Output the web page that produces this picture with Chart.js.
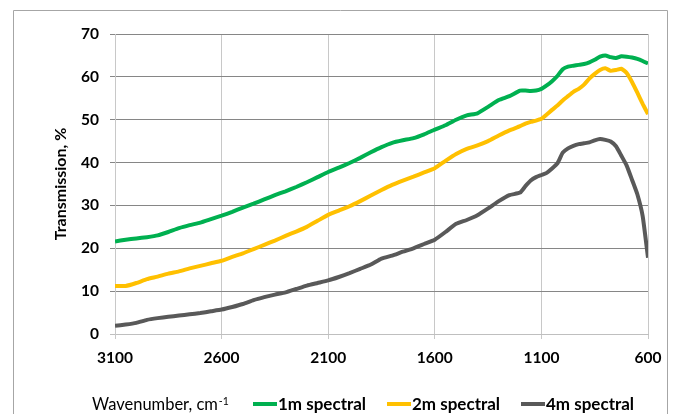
<!DOCTYPE html>
<html>
<head>
<meta charset="utf-8">
<script src="https://cdn.jsdelivr.net/npm/chart.js@4.4.0/dist/chart.umd.min.js"></script>
<style>
html,body{margin:0;padding:0;background:#fff;overflow:hidden}
#wrap{position:relative;width:673px;height:414px}
canvas{display:block}
</style>
</head>
<body>
<div id="wrap"><canvas id="c" width="673" height="414"></canvas></div>
<script>
// ---- data ----
const wavenumbers = [3100,3050,3000,2950,2900,2850,2800,2750,2700,2650,2600,2550,2500,2450,2400,2350,2300,2250,2200,2150,2100,2050,2000,1950,1900,1850,1800,1750,1700,1650,1600,1550,1500,1450,1400,1350,1300,1250,1200,1175,1150,1125,1100,1075,1050,1025,1000,975,950,925,900,875,850,825,800,775,750,725,700,675,650,625,600];
const series1m = [21.6,22.0,22.3,22.6,23.0,23.8,24.7,25.4,26.0,26.8,27.6,28.5,29.5,30.4,31.4,32.4,33.3,34.3,35.4,36.6,37.8,38.8,39.9,41.1,42.4,43.6,44.6,45.2,45.7,46.6,47.7,48.7,50.0,51.0,51.5,53.0,54.6,55.5,56.8,56.8,56.7,56.8,57.2,58.0,59.0,60.2,61.8,62.4,62.6,62.8,63.0,63.4,64.0,64.7,65.0,64.6,64.4,64.8,64.7,64.5,64.2,63.7,63.1];
const series2m = [11.2,11.2,11.9,12.8,13.4,14.1,14.6,15.3,15.9,16.5,17.1,18.0,18.8,19.8,20.8,21.8,22.9,23.9,25.0,26.4,27.8,28.8,29.8,31.0,32.3,33.6,34.8,35.8,36.7,37.7,38.7,40.4,42.0,43.2,44.0,45.0,46.3,47.5,48.5,49.1,49.5,49.8,50.2,51.2,52.3,53.3,54.5,55.5,56.5,57.2,58.2,59.6,60.7,61.6,62.0,61.4,61.6,61.9,60.9,58.8,56.3,53.7,51.3];
const series4m = [1.9,2.2,2.6,3.3,3.7,4.0,4.3,4.6,4.9,5.3,5.7,6.3,7.0,7.9,8.6,9.2,9.7,10.5,11.3,11.9,12.5,13.3,14.2,15.2,16.2,17.6,18.3,19.2,20.0,21.0,22.0,23.8,25.7,26.6,27.7,29.3,31.0,32.4,33.0,34.5,35.8,36.6,37.1,37.6,38.6,39.8,42.3,43.3,43.9,44.3,44.5,44.7,45.2,45.5,45.3,44.9,43.8,41.6,39.3,36.0,32.6,27.5,17.8];
const seriesNames = ['1m spectral','2m spectral','4m spectral'];
const seriesColors = ['#00B050','#FFC000','#595959'];
const xTickValues = [3100,2600,2100,1600,1100,600];
const yTickValues = [0,10,20,30,40,50,60,70];
const xTitleMain = 'Wavenumber, cm';
const xTitleSup = '-1';
const yTitle = 'Transmission, %';

// ---- chart ----
const FONT = "Lato, 'Open Sans', 'DejaVu Sans', sans-serif";
const allSeries = [series1m, series2m, series4m];

const frameAndLegend = {
  id: 'frameAndLegend',
  beforeDraw(chart) {
    const ctx = chart.ctx;
    ctx.save();
    ctx.fillStyle = '#fff';
    ctx.fillRect(0, 0, chart.width, chart.height);
    ctx.strokeStyle = '#a6a6a6';
    ctx.lineWidth = 1;
    ctx.beginPath();
    ctx.moveTo(13.5, chart.height + 2);
    ctx.lineTo(13.5, 10.5);
    ctx.lineTo(667.5, 10.5);
    ctx.lineTo(667.5, chart.height + 2);
    ctx.stroke();
    ctx.restore();
  },
  afterDraw(chart) {
    const ctx = chart.ctx;
    ctx.save();
    const baseY = 410;
    ctx.fillStyle = '#000';
    ctx.textBaseline = 'alphabetic';
    ctx.textAlign = 'left';
    ctx.font = "16.5px " + FONT;
    ctx.fillText(xTitleMain, 92, baseY);
    const w = ctx.measureText(xTitleMain).width;
    ctx.font = "10.5px " + FONT;
    ctx.fillText(xTitleSup, 92 + w + 1, baseY - 5);
    const legendX = [253, 387, 521];
    ctx.font = "bold 17px " + FONT;
    seriesNames.forEach((name, i) => {
      const x0 = legendX[i];
      ctx.strokeStyle = seriesColors[i];
      ctx.lineWidth = 4;
      ctx.lineCap = 'butt';
      ctx.beginPath();
      ctx.moveTo(x0, 404);
      ctx.lineTo(x0 + 24, 404);
      ctx.stroke();
      ctx.fillStyle = '#000';
      ctx.fillText(name, x0 + 25, baseY);
    });
    ctx.restore();
  }
};

new Chart(document.getElementById('c'), {
  type: 'line',
  data: {
    datasets: allSeries.map((s, i) => ({
      label: seriesNames[i],
      data: wavenumbers.map((wn, j) => ({x: wn, y: s[j]})),
      borderColor: seriesColors[i],
      backgroundColor: seriesColors[i],
      borderWidth: 4,
      pointRadius: 0,
      tension: 0.15,
      fill: false
    }))
  },
  options: {
    responsive: false,
    animation: false,
    devicePixelRatio: 1,
    layout: {padding: {left: 0, top: 34, right: 25, bottom: 50}},
    plugins: {legend: {display: false}, tooltip: {enabled: false}},
    scales: {
      x: {
        type: 'linear',
        reverse: true,
        min: 600,
        max: 3100,
        afterBuildTicks(scale) { scale.ticks = xTickValues.map(v => ({value: v})); },
        afterFit(scale) { scale.height = 30; },
        grid: {color: '#c8c8c8', lineWidth: 1, tickLength: 5, drawTicks: true},
        border: {color: '#bfbfbf', width: 1},
        ticks: {color: '#000', padding: 10, maxRotation: 0, callback: v => String(v), font: {family: FONT, size: 15.5, weight: 'bold'}}
      },
      y: {
        min: 0,
        max: 70,
        afterBuildTicks(scale) { scale.ticks = yTickValues.map(v => ({value: v})); },
        afterFit(scale) { scale.width = 115; },
        grid: {color: ctx => (ctx.tick && ctx.tick.value === 0) ? '#bfbfbf' : '#868686', lineWidth: 1, tickLength: 5},
        border: {color: '#c8c8c8', width: 1},
        ticks: {color: '#000', padding: 11, callback: v => String(v), font: {family: FONT, size: 15.5, weight: 'bold'}},
        title: {display: true, text: yTitle, color: '#000', padding: {top: 51, bottom: 0}, font: {family: FONT, size: 16, weight: 'bold'}}
      }
    }
  },
  plugins: [frameAndLegend]
});
</script>
</body>
</html>
